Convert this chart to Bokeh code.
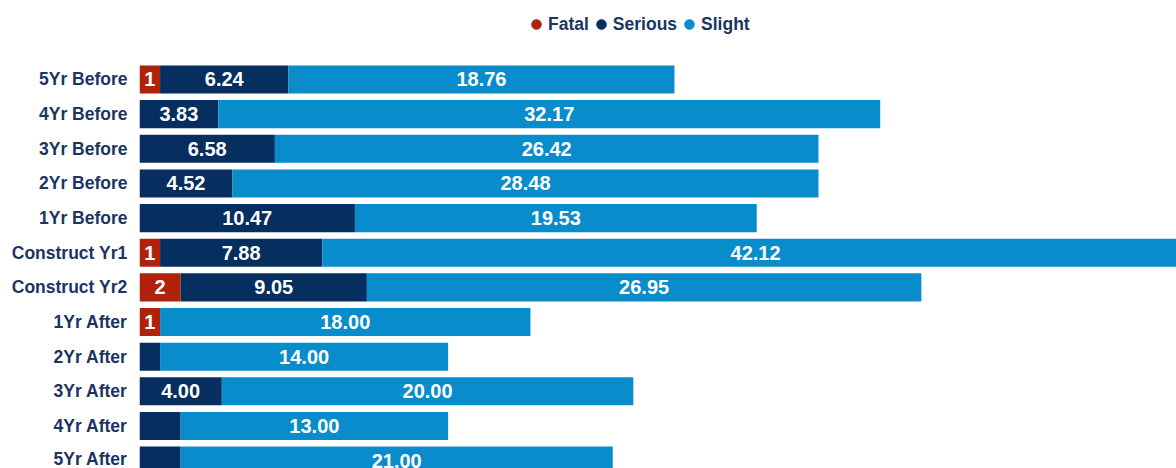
from bokeh.plotting import figure
from bokeh.models import Range1d, FixedTicker, Legend, LegendItem
from bokeh.core.properties import value
from bokeh.embed import file_html
from bokeh.resources import INLINE

categories = ["5Yr Before", "4Yr Before", "3Yr Before", "2Yr Before", "1Yr Before",
              "Construct Yr1", "Construct Yr2", "1Yr After", "2Yr After", "3Yr After",
              "4Yr After", "5Yr After"]
fatal = [1, 0, 0, 0, 0, 1, 2, 1, 0, 0, 0, 0]
serious = [6.24, 3.83, 6.58, 4.52, 10.47, 7.88, 9.05, 0, 1, 4, 2, 2]
slight = [18.76, 32.17, 26.42, 28.48, 19.53, 42.12, 26.95, 18, 14, 20, 13, 21]
series_names = ["Fatal", "Serious", "Slight"]

colors = ["#B0220C", "#062E5E", "#088CCB"]
text_navy = "#1B3562"
FONT = "Liberation Sans"

ys = [-i for i in range(len(categories))]

p = figure(width=1176, height=468, output_backend="svg", toolbar_location=None,
           x_range=Range1d(0, 50.4), y_range=Range1d(-11.227, 2.28))
p.min_border_left = 139
p.min_border_right = 0
p.min_border_top = 0
p.min_border_bottom = 0
p.outline_line_color = None
p.grid.visible = False
p.xaxis.visible = False

series = [fatal, serious, slight]
left = [0.0] * len(categories)
bar_h = 0.81
for name, vals, col in zip(series_names, series, colors):
    right = [l + v for l, v in zip(left, vals)]
    p.hbar(y=ys, left=left, right=right, height=bar_h, color=col, line_color=None)
    lx, ly, lt = [], [], []
    for l, v, y in zip(left, vals, ys):
        if v <= 0:
            continue
        if name == "Fatal":
            txt = "%d" % v
        elif name == "Serious":
            if v < 3:
                continue
            txt = "%.2f" % v
        else:
            txt = "%.2f" % v
        lx.append(l + v / 2.0)
        ly.append(y)
        lt.append(txt)
    p.text(x=lx, y=ly, text=lt, text_align="center", text_baseline="middle",
           text_color="white", text_font=value(FONT), text_font_style="bold",
           text_font_size="20px")
    left = right

# legend (marker-only renderers whose point lies nowhere on the plot)
nan = float("nan")
items = []
for name, col in zip(series_names, colors):
    r = p.scatter(x=[nan], y=[nan], marker="circle", size=11, color=col)
    items.append(LegendItem(label=name, renderers=[r]))
legend = Legend(items=items, orientation="horizontal", location=(385, 431),
                padding=0, margin=0, spacing=0, label_standoff=0,
                glyph_width=24, glyph_height=26, border_line_color=None,
                background_fill_alpha=0,
                label_text_font=FONT, label_text_font_style="bold",
                label_text_font_size="17.5px", label_text_color=text_navy)
p.add_layout(legend, "center")

p.yaxis.ticker = FixedTicker(ticks=ys)
p.yaxis.major_label_overrides = {y: c for y, c in zip(ys, categories)}
p.yaxis.axis_line_color = None
p.yaxis.major_tick_line_color = None
p.yaxis.minor_tick_line_color = None
p.yaxis.major_label_standoff = 6
p.yaxis.major_label_text_font = FONT
p.yaxis.major_label_text_font_style = "bold"
p.yaxis.major_label_text_font_size = "17.5px"
p.yaxis.major_label_text_color = text_navy

open("out.html", "w").write(file_html(p, INLINE))
